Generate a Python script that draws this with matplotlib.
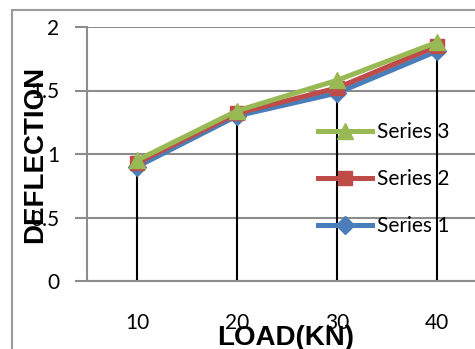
import matplotlib
matplotlib.use("Agg")
import matplotlib.pyplot as plt
from matplotlib.patches import Rectangle

loads = ["10", "20", "30", "40"]
series1 = [0.90, 1.30, 1.48, 1.81]
series2 = [0.93, 1.32, 1.52, 1.85]
series3 = [0.95, 1.34, 1.58, 1.88]
yticks = [0, 0.5, 1, 1.5, 2]

W, H = 475, 349
fig = plt.figure(figsize=(W / 100, H / 100), dpi=100)

# outer chart frame
fig.patches.append(Rectangle((12 / W, -0.05), 1.2, (H - 10) / H + 0.05,
                             transform=fig.transFigure, fill=False,
                             edgecolor="#9a9a9a", linewidth=1.5))

ax = fig.add_axes([87 / W, (H - 281) / H, 400 / W, 254 / H])
x = list(range(len(loads)))

ax.set_xlim(-0.5, len(loads) - 0.5)
ax.set_ylim(0, 2)
ax.set_yticks(yticks)
ax.set_yticklabels(["0", "0.5", "1", "1.5", "2"])
ax.set_xticks(x)
ax.set_xticklabels(loads)
ax.grid(axis="y", color="#8c8c8c", linewidth=1.5)
ax.set_axisbelow(True)

for s in ["top", "right"]:
    ax.spines[s].set_visible(False)
for s in ["left", "bottom"]:
    ax.spines[s].set_color("#8c8c8c")
    ax.spines[s].set_linewidth(1.5)

tick_font = "Lato"
ax.tick_params(axis="y", length=9, width=1.5, color="#8c8c8c", pad=11,
               labelsize=15)
ax.tick_params(axis="x", length=0, pad=23, labelsize=15)
for lbl in ax.get_xticklabels() + ax.get_yticklabels():
    lbl.set_fontfamily(tick_font)

# drop lines from the highest series down to the axis
tops = [max(a, b, c) for a, b, c in zip(series1, series2, series3)]
ax.vlines(x, 0, tops, color="black", linewidth=1.5, zorder=2)

l1, = ax.plot(x, series1, color="#4a7ebb", linewidth=3.6, marker="D",
              markersize=9, label="Series 1", zorder=3)
l2, = ax.plot(x, series2, color="#be4b48", linewidth=3.6, marker="s",
              markersize=10, label="Series 2", zorder=4)
l3, = ax.plot(x, series3, color="#98b954", linewidth=3.6, marker="^",
              markersize=11, label="Series 3", zorder=5)

leg = ax.legend(handles=[l3, l2, l1], loc="upper left",
                bbox_to_anchor=((318 - 87) / 400, (281 - 122) / 254),
                frameon=False, handlelength=2.6, labelspacing=1.3,
                handletextpad=0.25, borderaxespad=0, borderpad=0,
                prop={"family": tick_font, "size": 15})

ax.set_ylabel("DEFLECTION", fontsize=20, fontweight="bold",
              family="Liberation Sans")
ax.yaxis.set_label_coords(-(87 - 35) / 400, 0.5)
ax.yaxis.label.set_verticalalignment("center")
ax.set_xlabel("LOAD(KN)", fontsize=20, fontweight="bold",
              family="Liberation Sans")
ax.xaxis.set_label_coords((286 - 87) / 400, -(338 - 281) / 254)
ax.xaxis.label.set_verticalalignment("center")

fig.savefig("out.png", dpi=100)
